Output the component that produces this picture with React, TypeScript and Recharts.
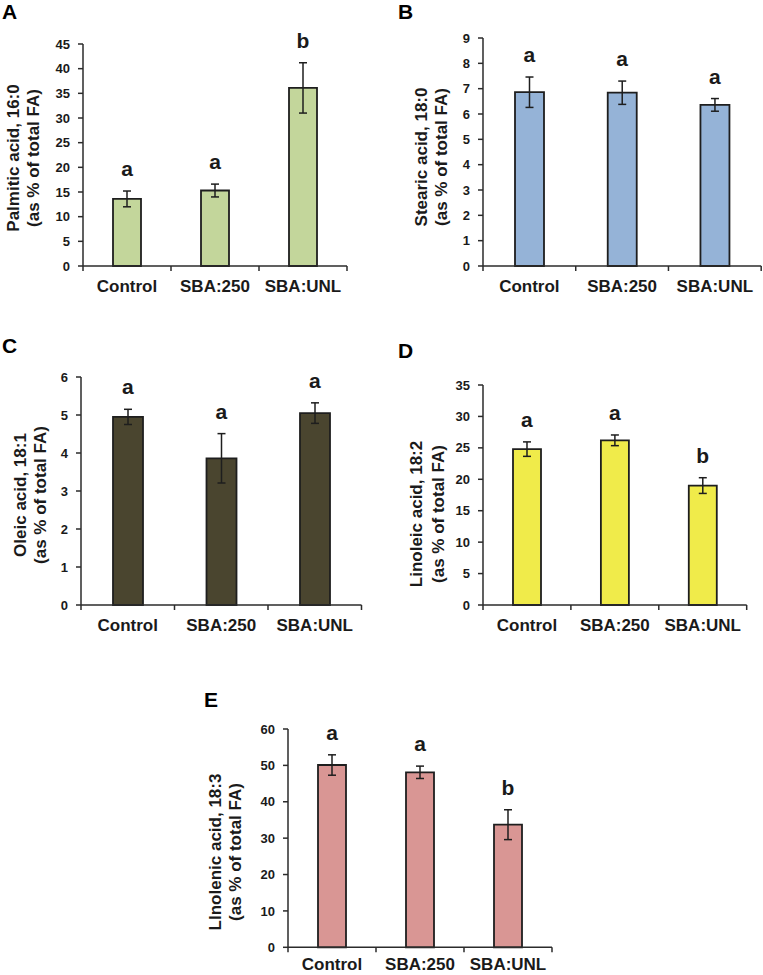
import React from 'react';
import { ComposedChart, Bar, Line, XAxis, YAxis, ErrorBar } from 'recharts';

const categories = ['Control', 'SBA:250', 'SBA:UNL'];

const palmiticMean = [13.6, 15.3, 36.1];
const palmiticErr = [1.6, 1.3, 5.1];
const palmiticLetters = ['a', 'a', 'b'];
const palmiticTicks = [0, 5, 10, 15, 20, 25, 30, 35, 40, 45];

const stearicMean = [6.86, 6.84, 6.36];
const stearicErr = [0.6, 0.46, 0.25];
const stearicLetters = ['a', 'a', 'a'];
const stearicTicks = [0, 1, 2, 3, 4, 5, 6, 7, 8, 9];

const oleicMean = [4.95, 3.86, 5.05];
const oleicErr = [0.2, 0.65, 0.27];
const oleicLetters = ['a', 'a', 'a'];
const oleicTicks = [0, 1, 2, 3, 4, 5, 6];

const linoleicMean = [24.8, 26.2, 19.0];
const linoleicErr = [1.15, 0.85, 1.25];
const linoleicLetters = ['a', 'a', 'b'];
const linoleicTicks = [0, 5, 10, 15, 20, 25, 30, 35];

const linolenicMean = [50.1, 48.1, 33.7];
const linolenicErr = [2.8, 1.7, 4.1];
const linolenicLetters = ['a', 'a', 'b'];
const linolenicTicks = [0, 10, 20, 30, 40, 50, 60];

const FONT = '"Liberation Sans", Arial, Helvetica, sans-serif';
const AXIS = '#2b2b2b';
const TEXT = '#1a1a1a';

const YW = 90;
const MT = 34;
const MR = 4;
const XH = 34;

type PanelProps = {
  means: number[];
  errs: number[];
  letters: string[];
  ticks: number[];
  color: string;
  barSize: number;
  labelDy: number;
  plot: { l: number; t: number; r: number; b: number };
};

function Panel({ means, errs, letters, ticks, color, barSize, labelDy, plot }: PanelProps) {
  const data = categories.map((c, i) => ({
    name: c,
    mean: means[i],
    err: errs[i],
    top: means[i] + errs[i],
  }));
  const left = plot.l - YW;
  const top = plot.t - MT;
  const width = plot.r - left + MR;
  const height = plot.b - top + XH;
  const halfBand = (plot.r - plot.l) / categories.length / 2;
  const last = categories.length - 1;

  const XTick = (props: any) => {
    const { x, y, payload, index } = props;
    return (
      <g>
        <line x1={x - halfBand} y1={y} x2={x - halfBand} y2={y + 5} stroke={AXIS} strokeWidth={1.5} />
        {index === last && (
          <line x1={x + halfBand} y1={y} x2={x + halfBand} y2={y + 5} stroke={AXIS} strokeWidth={1.5} />
        )}
        <text
          x={x}
          y={y + labelDy}
          textAnchor="middle"
          fontFamily={FONT}
          fontWeight="bold"
          fontSize={17}
          fill={TEXT}
        >
          {payload.value}
        </text>
      </g>
    );
  };

  const letterDot = (p: any) => (
    <text
      key={`letter-${p.index}`}
      x={p.cx}
      y={p.cy - 15}
      textAnchor="middle"
      fontFamily={FONT}
      fontWeight="bold"
      fontSize={21}
      fill={TEXT}
    >
      {letters[p.index]}
    </text>
  );

  return (
    <div style={{ position: 'absolute', left, top, width, height }}>
      <ComposedChart
        width={width}
        height={height}
        data={data}
        margin={{ top: MT, right: MR, left: 0, bottom: 0 }}
      >
        <XAxis
          dataKey="name"
          type="category"
          height={XH}
          axisLine={{ stroke: AXIS, strokeWidth: 1.5 }}
          tickLine={false}
          tickSize={0}
          tickMargin={0}
          interval={0}
          tick={XTick}
        />
        <YAxis
          width={YW}
          domain={[0, ticks[ticks.length - 1]]}
          ticks={ticks}
          interval={0}
          axisLine={{ stroke: AXIS, strokeWidth: 1.5 }}
          tickLine={{ stroke: AXIS, strokeWidth: 1.5 }}
          tickSize={5}
          tickMargin={8}
          tick={{ fontFamily: FONT, fontWeight: 'bold', fontSize: 13, fill: TEXT }}
        />
        <Bar
          dataKey="mean"
          fill={color}
          stroke="#1e1e1e"
          strokeWidth={1.8}
          barSize={barSize}
          isAnimationActive={false}
        >
          <ErrorBar dataKey="err" width={4} stroke="#1e1e1e" strokeWidth={1.5} />
        </Bar>
        <Line
          dataKey="top"
          stroke="none"
          dot={letterDot}
          activeDot={false}
          isAnimationActive={false}
        />
      </ComposedChart>
    </div>
  );
}

const titles = [
  { line1: 'Palmitic acid, 16:0', x1: 13.5, x2: 33.5, cy: 158 },
  { line1: 'Stearic acid, 18:0', x1: 421.7, x2: 441.7, cy: 157 },
  { line1: 'Oleic acid, 18:1', x1: 20, x2: 40, cy: 495 },
  { line1: 'Linoleic acid, 18:2', x1: 416.7, x2: 438.3, cy: 514 },
  { line1: 'LInolenic acid, 18:3', x1: 215, x2: 235, cy: 852 },
];

const panelLetters = [
  { t: 'A', x: 2, y: 19 },
  { t: 'B', x: 398, y: 19 },
  { t: 'C', x: 2, y: 353 },
  { t: 'D', x: 398, y: 358 },
  { t: 'E', x: 204, y: 707 },
];

export default function App() {
  return (
    <div
      style={{
        position: 'absolute',
        left: 0,
        top: 0,
        width: 763,
        height: 975,
        overflow: 'hidden',
        background: '#ffffff',
      }}
    >
      <Panel
        means={palmiticMean}
        errs={palmiticErr}
        letters={palmiticLetters}
        ticks={palmiticTicks}
        color="#c3d69b"
        barSize={28}
        labelDy={26}
        plot={{ l: 82.7, t: 44.3, r: 346.7, b: 266.3 }}
      />
      <Panel
        means={stearicMean}
        errs={stearicErr}
        letters={stearicLetters}
        ticks={stearicTicks}
        color="#95b3d7"
        barSize={29}
        labelDy={26}
        plot={{ l: 483.3, t: 37.7, r: 761.5, b: 265.7 }}
      />
      <Panel
        means={oleicMean}
        errs={oleicErr}
        letters={oleicLetters}
        ticks={oleicTicks}
        color="#4a452f"
        barSize={30}
        labelDy={26}
        plot={{ l: 81, t: 377.3, r: 361.5, b: 605.3 }}
      />
      <Panel
        means={linoleicMean}
        errs={linoleicErr}
        letters={linoleicLetters}
        ticks={linoleicTicks}
        color="#f0eb4a"
        barSize={28}
        labelDy={26}
        plot={{ l: 483.3, t: 385, r: 747, b: 605 }}
      />
      <Panel
        means={linolenicMean}
        errs={linolenicErr}
        letters={linolenicLetters}
        ticks={linolenicTicks}
        color="#d99694"
        barSize={28}
        labelDy={23}
        plot={{ l: 288.3, t: 729, r: 552.3, b: 947.3 }}
      />
      <svg
        width={763}
        height={975}
        style={{ position: 'absolute', left: 0, top: 0, pointerEvents: 'none' }}
      >
        {panelLetters.map((p) => (
          <text
            key={p.t}
            x={p.x}
            y={p.y}
            fontFamily={FONT}
            fontWeight="bold"
            fontSize={21}
            fill="#000"
          >
            {p.t}
          </text>
        ))}
        {titles.map((t) => (
          <g key={t.line1} fontFamily={FONT} fontWeight="bold" fontSize={17} fill={TEXT}>
            <text
              transform={`translate(${t.x1},${t.cy}) rotate(-90)`}
              textAnchor="middle"
              dominantBaseline="central"
            >
              {t.line1}
            </text>
            <text
              transform={`translate(${t.x2},${t.cy}) rotate(-90)`}
              textAnchor="middle"
              dominantBaseline="central"
            >
              (as % of total FA)
            </text>
          </g>
        ))}
      </svg>
    </div>
  );
}
